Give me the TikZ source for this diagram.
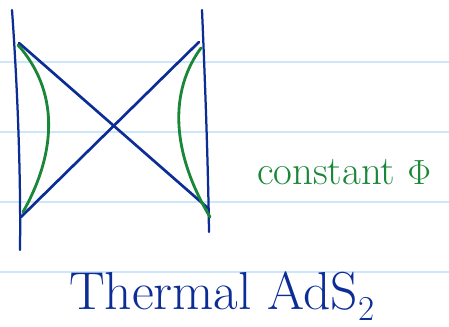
\documentclass[tikz,border=0pt]{standalone}
\usepackage{xcolor}
\usepackage{amsmath}
\usepackage{tikz}
\usetikzlibrary{positioning, calc}
\definecolor{inkblue}{RGB}{12,45,150}
\definecolor{inkgreen}{RGB}{25,135,55}
\definecolor{rulecol}{RGB}{205,230,250}
\tikzset{
  bound/.style={inkblue, line width=1.6pt, line cap=round},
  horizon/.style={inkblue, line width=1.9pt, line cap=round},
  slice/.style={inkgreen, line width=2pt, line cap=round},
  ruled/.style={rulecol, line width=1pt},
  label/.style={inkgreen, font=\fontsize{29}{34}\selectfont},
  caption/.style={inkblue, font=\fontsize{38}{44}\selectfont}
}
\begin{document}
\begin{tikzpicture}[x=0.025cm, y=-0.025cm]
  \useasboundingbox[fill=white] (0,0) rectangle (449,327);

  % Ruled paper
  \foreach \yy in {62,132,202,272}
    \draw[ruled] (0,\yy) -- (449,\yy);

  % Boundaries
  \coordinate (lt) at (12,10);
  \coordinate (lb) at (20,250);
  \coordinate (rt) at (202,10);
  \coordinate (rb) at (209,232);
  \draw[bound] (lt) .. controls (17,80) and (21,170) .. (lb);
  \draw[bound] (rt) .. controls (205,80) and (208,160) .. (rb);

  % Horizons
  \coordinate (tl) at (19,43);
  \coordinate (tr) at (199,42);
  \coordinate (bl) at (21,217);
  \coordinate (br) at (209,209);
  \draw[horizon] (tl) -- (br);
  \draw[horizon] (tr) -- (bl);

  % Constant slices
  \coordinate (gtl) at (18,45);
  \coordinate (gbl) at (23,212);
  \coordinate (gtr) at (201,48);
  \coordinate (gbr) at (210,217);
  \draw[slice] (gtl) .. controls (58,90) and (58,150) .. (gbl);
  \draw[slice] (gtr) .. controls (170,90) and (170,150) .. (gbr);

  % Labels
  \node[label] (const) at (344,172) {constant $\Phi$};
  \node[caption] (name) at (222,296) {Thermal AdS$_2$};
\end{tikzpicture}
\end{document}
